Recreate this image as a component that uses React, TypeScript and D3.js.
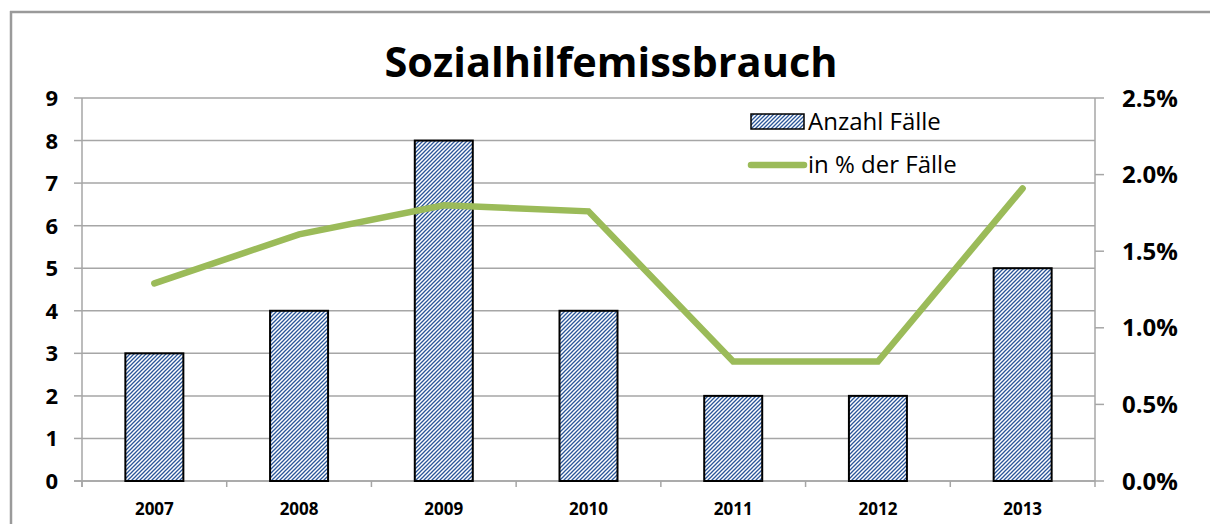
import React from "react";
import * as d3 from "d3";

const years = ["2007", "2008", "2009", "2010", "2011", "2012", "2013"];
const cases = [3, 4, 8, 4, 2, 2, 5];
const percent = [1.29, 1.61, 1.8, 1.76, 0.78, 0.78, 1.91];
const leftTicks = [0, 1, 2, 3, 4, 5, 6, 7, 8, 9];
const rightTicks = [0, 0.5, 1.0, 1.5, 2.0, 2.5];

const W = 1210;
const H = 524;
const L = 82, R = 1095, T = 98, B = 481;
const font = "'Open Sans', 'Noto Sans', sans-serif";

export default function App() {
  const band = d3.scaleBand<string>().domain(years).range([L, R]);
  const y = d3.scaleLinear().domain([0, 9]).range([B, T]);
  const y2 = d3.scaleLinear().domain([0, 2.5]).range([B, T]);
  const line = d3
    .line<number>()
    .x((_, i) => (band(years[i]) as number) + band.bandwidth() / 2)
    .y((d) => y2(d));
  const bw = 58;

  return (
    <svg width={W} height={H} style={{ position: "absolute", left: 0, top: 0, background: "#fff" }}>
      <defs>
        <pattern id="hatch" patternUnits="userSpaceOnUse" width="4" height="4">
          <rect width="4" height="4" fill="#ffffff" />
          <path d="M-1,1 l2,-2 M0,4 l4,-4 M3,5 l2,-2" stroke="#2a5699" strokeWidth="1.3" />
        </pattern>
      </defs>
      <rect x={0} y={0} width={W} height={H} fill="#fff" />
      {/* outer border */}
      <line x1={10} y1={12} x2={W} y2={12} stroke="#9a9a9a" strokeWidth={2.5} />
      <line x1={11} y1={11} x2={11} y2={H} stroke="#9a9a9a" strokeWidth={2.5} />

      <text x={611} y={77} textAnchor="middle" fontFamily={font} fontWeight="bold" fontSize={41.5} fill="#000">
        Sozialhilfemissbrauch
      </text>

      {/* gridlines */}
      {leftTicks.map((t) => (
        <line key={"g" + t} x1={L} x2={R} y1={y(t)} y2={y(t)} stroke="#a6a6a6" strokeWidth={1.5} />
      ))}
      {/* left axis */}
      <line x1={L} x2={L} y1={T} y2={B + 6} stroke="#a6a6a6" strokeWidth={1.5} />
      {leftTicks.map((t) => (
        <g key={"l" + t}>
          <line x1={L - 8} x2={L} y1={y(t)} y2={y(t)} stroke="#a6a6a6" strokeWidth={1.5} />
          <text x={58} y={y(t) + 8} textAnchor="end" fontFamily={font} fontWeight="bold" fontSize={22} fill="#000">
            {t}
          </text>
        </g>
      ))}
      {/* right axis */}
      <line x1={R} x2={R} y1={T} y2={B + 6} stroke="#a6a6a6" strokeWidth={1.5} />
      {rightTicks.map((t) => (
        <g key={"r" + t}>
          <line x1={R} x2={R + 9} y1={y2(t)} y2={y2(t)} stroke="#a6a6a6" strokeWidth={1.5} />
          <text x={1122} y={y2(t) + 8.5} textAnchor="start" fontFamily={font} fontWeight="bold" fontSize={24} fill="#000">
            {t.toFixed(1) + "%"}
          </text>
        </g>
      ))}
      {/* x ticks */}
      {years.map((yr) => (
        <line key={"xt" + yr} x1={band(yr) as number} x2={band(yr) as number} y1={B} y2={B + 6} stroke="#a6a6a6" strokeWidth={1.5} />
      ))}
      <line x1={L - 8} x2={R} y1={B} y2={B} stroke="#a6a6a6" strokeWidth={1.5} />

      {/* bars */}
      {years.map((yr, i) => {
        const cx = (band(yr) as number) + band.bandwidth() / 2;
        return (
          <rect
            key={"b" + yr}
            x={cx - bw / 2}
            y={y(cases[i])}
            width={bw}
            height={B - y(cases[i])}
            fill="url(#hatch)"
            stroke="#000"
            strokeWidth={2}
          />
        );
      })}

      {/* line */}
      <path d={line(percent) as string} fill="none" stroke="#9bbb59" strokeWidth={6.5} strokeLinecap="round" strokeLinejoin="miter" />

      {/* x labels */}
      {years.map((yr) => (
        <text
          key={"xl" + yr}
          x={(band(yr) as number) + band.bandwidth() / 2}
          y={515}
          textAnchor="middle"
          fontFamily={font}
          fontWeight="bold"
          fontSize={17}
          fill="#000"
        >
          {yr}
        </text>
      ))}

      {/* legend */}
      <rect x={751} y={114} width={53} height={15} fill="url(#hatch)" stroke="#000" strokeWidth={1.5} />
      <text x={808} y={130} fontFamily={font} fontSize={24} fill="#000">Anzahl Fälle</text>
      <line x1={751} x2={804} y1={165} y2={165} stroke="#9bbb59" strokeWidth={6.5} strokeLinecap="round" />
      <text x={808} y={173} fontFamily={font} fontSize={24} fill="#000">in % der Fälle</text>
    </svg>
  );
}
